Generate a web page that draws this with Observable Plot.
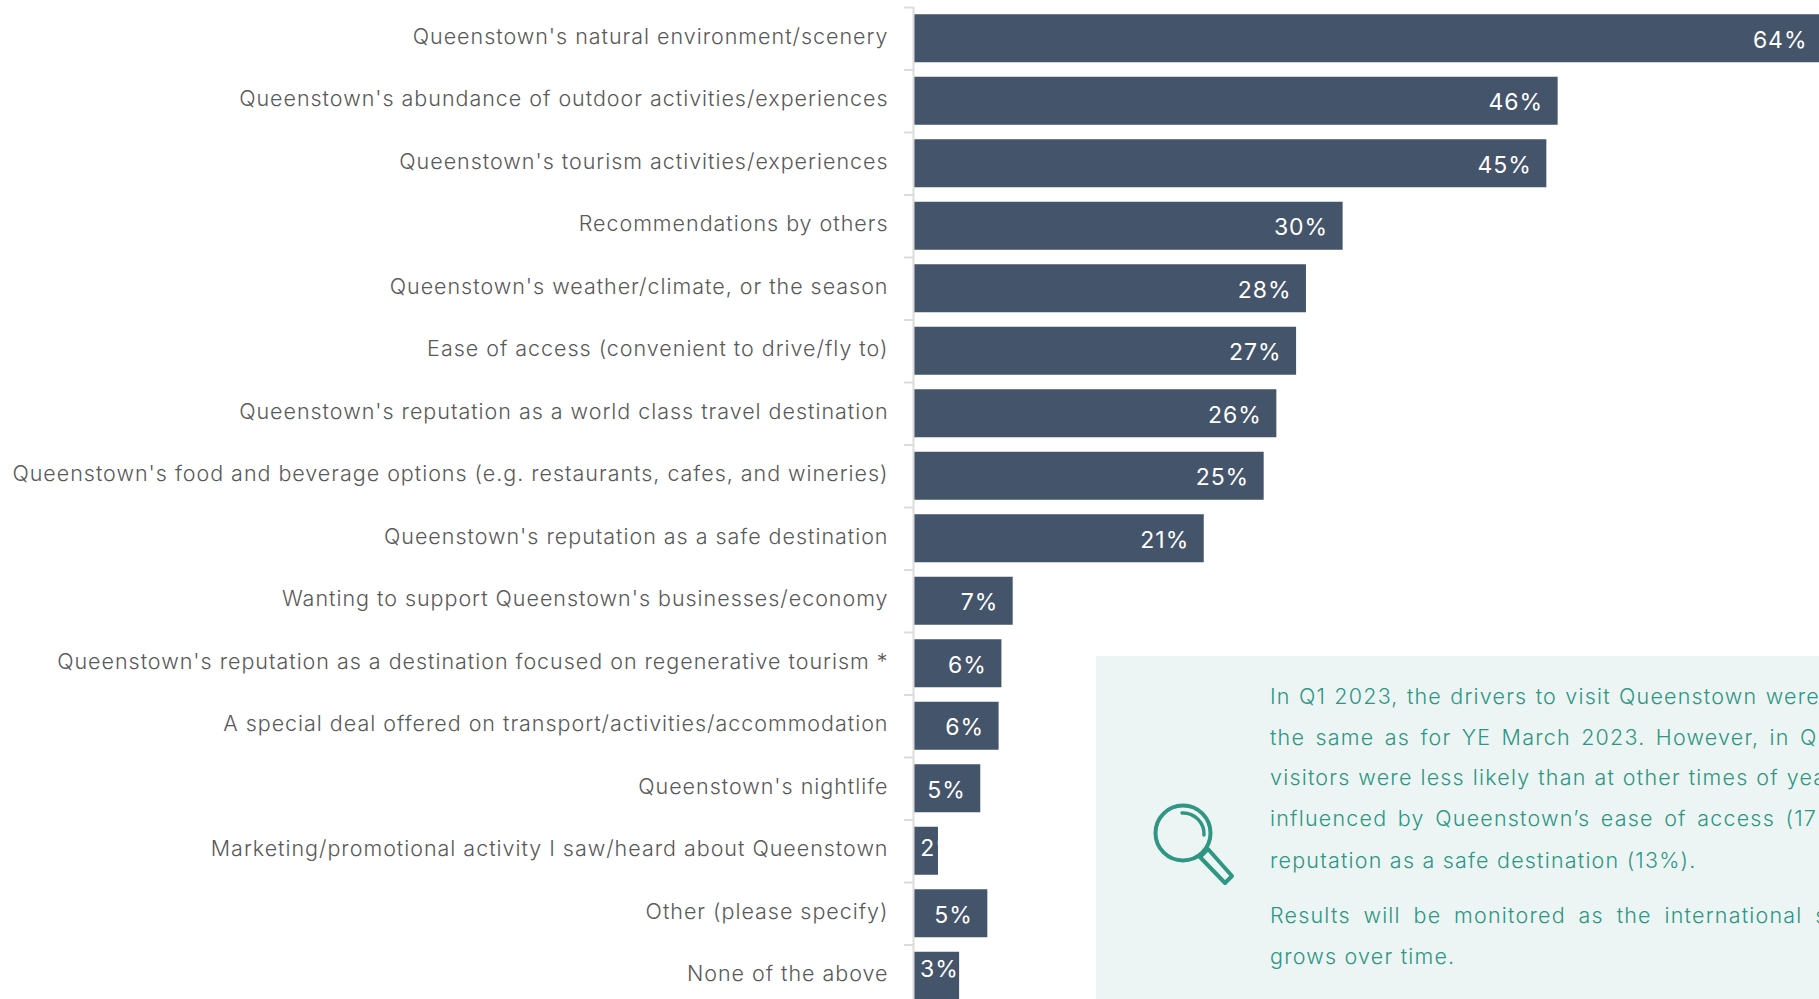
<!DOCTYPE html>
<html>
<head>
<meta charset="utf-8">
<script src="https://cdn.jsdelivr.net/npm/d3@7"></script>
<script src="https://cdn.jsdelivr.net/npm/@observablehq/plot@0.6"></script>
<style>
  html, body { margin: 0; padding: 0; width: 1819px; height: 999px; overflow: hidden; background: #fff; }
  #chart { position: absolute; left: 0; top: 0; }
  #note { position: absolute; left: 1096px; top: 656px; width: 723px; height: 343px; background: #ecf5f3; overflow: hidden; }
  #note svg { position: absolute; left: 0; top: 0; }
  #note div { position: absolute; left: 174px; white-space: nowrap; color: #2f9683; font: 300 21.5px Inter, sans-serif; letter-spacing: 1.2px; line-height: 28px; }
</style>
</head>
<body>
<div id="chart"></div>
<div id="note">
  <svg width="200" height="343" fill="none" stroke="#2f9683">
    <circle cx="87" cy="177" r="27.5" stroke-width="4"/>
    <path d="M86 157 A 21 21 0 0 1 108 179" stroke-width="3.5" stroke-linecap="round"/>
    <path d="M104 201 L112 193 L136 220 L129 227 Z" stroke-width="4" stroke-linejoin="round"/>
  </svg>
</div>
<script>
const categories = [
  "Queenstown's natural environment/scenery",
  "Queenstown's abundance of outdoor activities/experiences",
  "Queenstown's tourism activities/experiences",
  "Recommendations by others",
  "Queenstown's weather/climate, or the season",
  "Ease of access (convenient to drive/fly to)",
  "Queenstown's reputation as a world class travel destination",
  "Queenstown's food and beverage options (e.g. restaurants, cafes, and wineries)",
  "Queenstown's reputation as a safe destination",
  "Wanting to support Queenstown's businesses/economy",
  "Queenstown's reputation as a destination focused on regenerative tourism *",
  "A special deal offered on transport/activities/accommodation",
  "Queenstown's nightlife",
  "Marketing/promotional activity I saw/heard about Queenstown",
  "Other (please specify)",
  "None of the above"
];
const shares = [64.4, 45.65, 44.85, 30.4, 27.8, 27.1, 25.7, 24.8, 20.55, 7.0, 6.2, 6.0, 4.7, 1.7, 5.2, 3.2];

const noteLines = [
  "In Q1 2023, the drivers to visit Queenstown were",
  "the same as for YE March 2023. However, in Q",
  "visitors were less likely than at other times of yea",
  "influenced by Queenstown\u2019s ease of access (17",
  "reputation as a safe destination (13%).",
  "Results will be monitored as the international s",
  "grows over time."
];
const noteWordSpacing = [1, 3.1, 0.6, 3.3, 0, 5.5, 0];
const noteTops = [26, 67, 107, 148, 190, 245, 286];

const rows = categories.map((category, i) => ({category, share: shares[i]}));
const axisGrey = "#dcdcdc";
const labelFont = "Inter, sans-serif";

// Short bars keep their label pushed out to this share so it starts just inside the bar.
const minLabelEdge = 4.2;
const valueLabels = (filter, dy) => Plot.text(rows.filter(filter), {
  x: d => Math.max(d.share, minLabelEdge),
  y: "category",
  text: d => `${Math.round(d.share)}%`,
  textAnchor: "end",
  dx: -15,
  dy,
  fill: "white",
  fontSize: 23,
  fontFamily: labelFont,
  fontWeight: 400
});

const chart = Plot.plot({
  width: 1819,
  height: 999,
  marginLeft: 0, marginRight: 0, marginTop: 7, marginBottom: 0,
  style: {overflow: "hidden", background: "transparent", letterSpacing: "0.97px"},
  x: {domain: [0, 64.4], range: [914, 1822], axis: null},
  y: {domain: categories, range: [7, 1007], padding: 0, round: false, label: null, axis: null},
  marks: [
    Plot.barX(rows, {x: "share", y: "category", fill: "#44546a", insetTop: 7.25, insetBottom: 7.25}),
    Plot.ruleX([0], {stroke: axisGrey, strokeWidth: 2, dx: -1}),
    // Ticks sit on the band edges, so this axis is shifted up half a step.
    Plot.axisY({anchor: "left", x: 0, tickSize: 9, tickFormat: () => "", label: null, stroke: axisGrey, strokeWidth: 2, dy: -31.25, dx: -1}),
    Plot.axisY({anchor: "left", x: 0, tickSize: 0, tickPadding: 26, label: null, fontSize: 21.5, fontWeight: 300, fontFamily: labelFont, color: "#595959", lineWidth: 100, dy: -2}),
    valueLabels(d => d.share >= minLabelEdge, 1.5),
    valueLabels(d => d.category.startsWith("Marketing"), -3),
    valueLabels(d => d.category.startsWith("None"), -7)
  ]
});
document.getElementById("chart").append(chart);

const note = document.getElementById("note");
noteLines.forEach((line, i) => {
  const el = document.createElement("div");
  el.textContent = line;
  el.style.top = `${noteTops[i]}px`;
  el.style.wordSpacing = `${noteWordSpacing[i]}px`;
  note.append(el);
});
</script>
</body>
</html>
